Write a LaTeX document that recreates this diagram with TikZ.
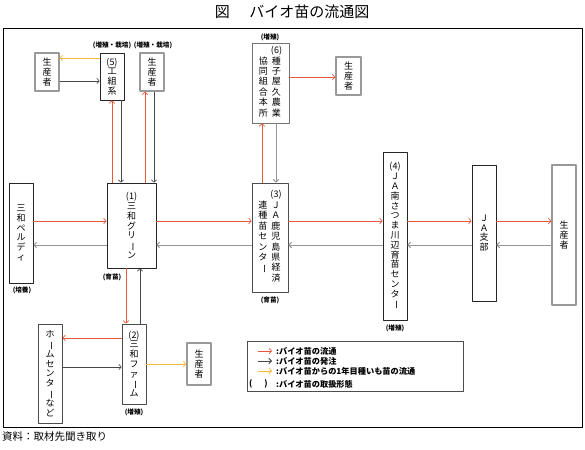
\documentclass[tikz,border=0pt]{standalone}
\usepackage{fontspec}
\setmainfont{Noto Sans CJK JP}
\usepackage{graphicx}
\usetikzlibrary{arrows.meta}
\definecolor{flowred}{RGB}{236,88,58}
\definecolor{seedyel}{RGB}{248,186,60}
\definecolor{ordgray}{RGB}{70,70,70}
\definecolor{backgray}{RGB}{150,150,150}
\newcommand\boxfont{\fontsize{9}{9.8}\selectfont}
\newcommand\vbar{\rotatebox[origin=c]{-90}{ー}}% long vowel mark, vertical
\tikzset{>={Straight Barb[length=2.5pt,width=5.5pt]}}
\tikzset{
    box/.style={draw=black!85, line width=0.7pt, inner sep=0pt, align=center, font=\boxfont},
    pbox/.style={box, draw=black!40, line width=1.2pt},
    flow/.style={->, draw=flowred, line width=0.7pt},
    order/.style={->, draw=ordgray, line width=0.6pt},
    back/.style={->, draw=backgray, line width=1pt},
    seed/.style={->, draw=seedyel, line width=0.8pt},
    lbl/.style={font=\fontsize{6.6}{7.5}\selectfont\bfseries, inner sep=0pt},
    legtxt/.style={font=\fontsize{8.2}{9}\selectfont\bfseries, inner sep=0pt, anchor=west}
}

\begin{document}
\begin{tikzpicture}[x=1pt, y=-1pt, line join=round]
    \useasboundingbox (0,0) rectangle (585,449);
    \node[font=\fontsize{15}{17}\selectfont] (title) at (292,12) {図\hspace{1.3em}バイオ苗の流通図};
    \draw[line width=1pt] (3,29) rectangle (582,427);
    \node[anchor=west, font=\fontsize{10.5}{12}\selectfont, inner sep=0pt] (source) at (2,437) {資料：取材先聞き取り};

    % boxes
    \node[pbox, minimum width=24pt, minimum height=38pt] (prodA) at (47,72) {生\\産\\者};
    \node[box, minimum width=24pt, minimum height=47pt] (kumi) at (112,76.5) {(5)\\工\\組\\系};
    \node[pbox, minimum width=24pt, minimum height=38pt] (prodB) at (152,72) {生\\産\\者};
    \node[box, draw=black!55, minimum width=37pt, minimum height=80pt] (yaku) at (270.5,83)
        {\begin{tabular}{@{}c@{\hspace{3pt}}c@{}} & (6)\\ 協&種\\ 同&子\\ 組&屋\\ 合&久\\ 本&農\\ 所&業\end{tabular}};
    \node[pbox, minimum width=25pt, minimum height=38pt] (prodC) at (348.5,76) {生\\産\\者};
    \node[box, minimum width=24pt, minimum height=100pt] (beldi) at (21,233) {三\\和\\ペ\\ル\\デ\\ィ};
    \node[box, minimum width=49pt, minimum height=85pt] (green) at (131.5,225.5) {(1)\\三\\和\\グ\\リ\\\vbar\\ン};
    \node[box, draw=black!70, minimum width=36pt, minimum height=109pt] (keizai) at (270,237.5)
        {\begin{tabular}{@{}c@{\hspace{3pt}}c@{}} & (3)\\ 連&Ｊ\\ 種&Ａ\\ 苗&鹿\\ セ&児\\ ン&島\\ タ&県\\ \vbar&経\\ &済\end{tabular}};
    \node[box, minimum width=24pt, minimum height=168pt] (kawanabe) at (395,236)
        {(4)\\Ｊ\\Ａ\\南\\さ\\つ\\ま\\川\\辺\\育\\苗\\セ\\ン\\タ\\\vbar};
    \node[box, minimum width=24pt, minimum height=136pt] (shibu) at (484,233) {Ｊ\\Ａ\\支\\部};
    \node[pbox, minimum width=24pt, minimum height=140pt] (prodD) at (564,235) {生\\産\\者};
    \node[box, draw=black!70, minimum width=24pt, minimum height=99pt] (home) at (50,373.5)
        {ホ\\\vbar\\ム\\セ\\ン\\タ\\\vbar\\な\\ど};
    \node[box, draw=black!70, minimum width=24pt, minimum height=80pt] (farm) at (134,364) {(2)\\三\\和\\フ\\ァ\\\vbar\\ム};
    \node[pbox, minimum width=24pt, minimum height=42pt] (prodE) at (199,364) {生\\産\\者};

    % handling labels
    \node[lbl] (lkumi) at (112,45) {(増殖・栽培)};
    \node[lbl] (lprodB) at (153,45) {(増殖・栽培)};
    \node[lbl] (lyaku) at (270,37) {(増殖)};
    \node[lbl] (lbeldi) at (22,290) {(培養)};
    \node[lbl] (lgreen) at (112,277) {(育苗)};
    \node[lbl] (lkeizai) at (270,300) {(育苗)};
    \node[lbl] (lkawanabe) at (395,328) {(増殖)};
    \node[lbl] (lfarm) at (134,412) {(増殖)};

    % connectors
    \coordinate (rowF) at (0,221);
    \coordinate (rowB) at (0,245);
    \foreach \a/\b in {beldi/green, green/keizai, keizai/kawanabe, kawanabe/shibu, shibu/prodD}{
        \draw[flow] (\a.east |- rowF) -- (\b.west |- rowF);
        \draw[back] (\b.west |- rowB) -- (\a.east |- rowB);
    }
    \coordinate (c1) at (112,0);
    \coordinate (c2) at (121,0);
    \coordinate (c3) at (145,0);
    \coordinate (c4) at (154,0);
    \coordinate (c5) at (262,0);
    \coordinate (c6) at (276,0);
    \coordinate (c7) at (126,0);
    \coordinate (c8) at (140,0);
    \draw[flow] (green.north -| c1) -- (kumi.south -| c1);
    \draw[order] (kumi.south -| c2) -- (green.north -| c2);
    \draw[flow] (green.north -| c3) -- (prodB.south -| c3);
    \draw[order] (prodB.south -| c4) -- (green.north -| c4);
    \draw[flow] (keizai.north -| c5) -- (yaku.south -| c5);
    \draw[back] (yaku.south -| c6) -- (keizai.north -| c6);
    \draw[flow] (green.south -| c7) -- (farm.north -| c7);
    \draw[order] (farm.north -| c8) -- (green.south -| c8);
    \coordinate (r1) at (0,58);
    \coordinate (r2) at (0,81);
    \coordinate (r3) at (0,77);
    \coordinate (r4) at (0,338);
    \coordinate (r5) at (0,367);
    \draw[flow] (yaku.east |- r3) -- (prodC.west |- r3);
    \draw[order] (prodA.east |- r2) -- (kumi.west |- r2);
    \draw[seed] (kumi.west |- r1) -- (prodA.east |- r1);
    \draw[flow] (farm.west |- r4) -- (home.east |- r4);
    \draw[order] (home.east |- r5) -- (farm.west |- r5);
    \draw[seed] (farm.east) -- (prodE.west);

    % legend
    \node[draw=black!70, line width=0.7pt, minimum width=216pt, minimum height=50pt, inner sep=0pt] (legend) at (355,366) {};
    \coordinate (lg1) at (258,351);
    \coordinate (lg2) at (258,361);
    \coordinate (lg3) at (258,371);
    \draw[flow] (lg1) -- ++(14,0);
    \draw[order, line width=1pt] (lg2) -- ++(14,0);
    \draw[seed] (lg3) -- ++(14,0);
    \node[legtxt] (leg1) at (276,351) {:バイオ苗の流通};
    \node[legtxt] (leg2) at (276,361) {:バイオ苗の発注};
    \node[legtxt] (leg3) at (276,371) {:バイオ苗からの1年目種いも苗の流通};
    \node[legtxt] (leg4p) at (249,384) {(\hspace{12pt})};
    \node[legtxt] (leg4) at (276,384) {:バイオ苗の取扱形態};
\end{tikzpicture}
\end{document}
